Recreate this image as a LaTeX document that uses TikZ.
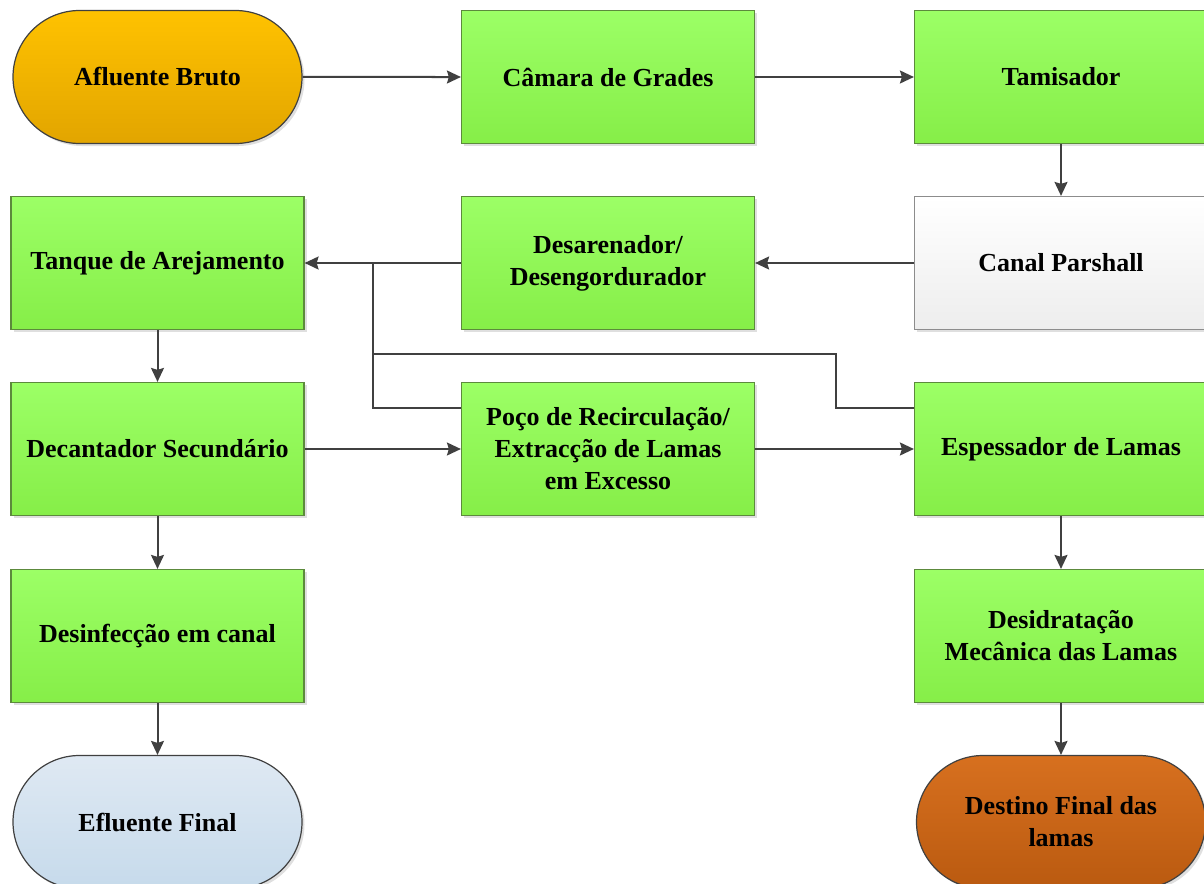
\documentclass[tikz,border=0pt]{standalone}
\usepackage{fontspec}
\setmainfont{Liberation Serif}
\usetikzlibrary{arrows.meta,shapes.misc,shadows}

\definecolor{boxgreen1}{HTML}{9CFF66}
\definecolor{boxgreen2}{HTML}{86EE48}
\definecolor{boxgreenline}{HTML}{5C8A3C}
\definecolor{startA}{HTML}{FFC200}
\definecolor{startB}{HTML}{E2A500}
\definecolor{endA}{HTML}{DFE9F3}
\definecolor{endB}{HTML}{C6DAEB}
\definecolor{sludgeA}{HTML}{D7701F}
\definecolor{sludgeB}{HTML}{BA5A10}
\definecolor{flowline}{HTML}{404040}

\tikzset{
	unit/.style={rectangle, draw=boxgreenline, line width=1.2pt, top color=boxgreen1, bottom color=boxgreen2,
		minimum width=293pt, minimum height=133pt, align=center, inner sep=2pt,
		drop shadow={shadow xshift=2.5pt, shadow yshift=-2.5pt, opacity=0.25}},
	terminal/.style={rounded rectangle, draw=flowline, line width=1.2pt,
		minimum width=293pt, minimum height=133pt, align=center, inner sep=2pt,
		drop shadow={shadow xshift=2.5pt, shadow yshift=-2.5pt, opacity=0.25}},
	flow/.style={draw=flowline, line width=2pt, -{Stealth[length=14pt, width=13pt, inset=2pt]}},
	feed/.style={draw=flowline, line width=2pt}
}

\begin{document}
\begin{tikzpicture}[x=1pt, y=-1pt, font=\fontsize{26}{32}\selectfont\bfseries]
		\useasboundingbox (0,0) rectangle (1204,883);

		\node[terminal, top color=startA, bottom color=startB] (AB) at (157.5, 77) {Afluente Bruto};
		\node[unit] (CG) at (608, 77) {Câmara de Grades};
		\node[unit] (TM) at (1061, 77) {Tamisador};
		\node[unit, draw=black!45, top color=white, bottom color=black!7] (CP) at (1061, 263) {Canal Parshall};
		\node[unit] (DD) at (608, 263) {Desarenador/\\Desengordurador};
		\node[unit] (TA) at (157.5, 263) {Tanque de Arejamento};
		\node[unit] (DS) at (157.5, 449) {Decantador Secundário};
		\node[unit] (PR) at (608, 449) {Poço de Recirculação/\\Extracção de Lamas\\em Excesso};
		\node[unit] (EL) at (1061, 449) {Espessador de Lamas};
		\node[unit] (DC) at (157.5, 636) {Desinfecção em canal};
		\node[unit] (DM) at (1061, 636) {Desidratação\\Mecânica das Lamas};
		\node[terminal, top color=endA, bottom color=endB] (EF) at (157.5, 822) {Efluente Final};
		\node[terminal, top color=sludgeA, bottom color=sludgeB] (DF) at (1061, 822) {Destino Final das\\lamas};

		\coordinate (J) at (373, 263);
		\coordinate (K) at (836, 354);
		\coordinate (L) at (373, 354);

		\path (AB) edge[flow] (CG)
		(CG) edge[flow] (TM)
		(TM) edge[flow] (CP)
		(CP) edge[flow] (DD)
		(DD) edge[flow] (TA)
		(TA) edge[flow] (DS)
		(DS) edge[flow] (PR)
		(PR) edge[flow] (EL)
		(EL) edge[flow] (DM)
		(DM) edge[flow] (DF)
		(DS) edge[flow] (DC)
		(DC) edge[flow] (EF);

		\draw[feed] ([yshift=-26pt]PR.north west) -| (J);
		\draw[feed] ([yshift=-26pt]EL.north west) -| (K) -- (L);

	\end{tikzpicture}
\end{document}
